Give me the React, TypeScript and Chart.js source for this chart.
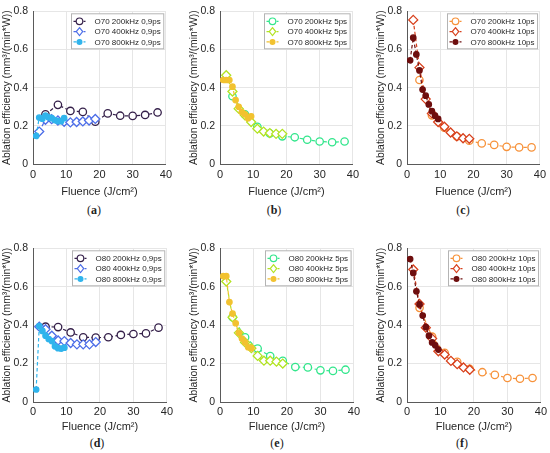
import { useEffect, useRef } from "react";
import { Chart, registerables } from "chart.js";

Chart.register(...registerables);

const FONT = '"Liberation Sans", Arial, Helvetica, sans-serif';
Chart.defaults.font.family = FONT;

// fluence steps per repetition rate (J/cm²)
const FLUENCE_200K = [3.75, 7.5, 11.25, 15, 18.75, 22.5, 26.25, 30, 33.75, 37.5];
const FLUENCE_400K = [1.875, 3.75, 5.625, 7.5, 9.375, 11.25, 13.125, 15, 16.875, 18.75];
const FLUENCE_800K = [0.94, 1.875, 2.81, 3.75, 4.69, 5.625, 6.56, 7.5, 8.44, 9.375];

// ablation efficiency, mm³/(min*W)
const O70_09PS_200K = [0.26, 0.31, 0.278, 0.273, 0.222, 0.265, 0.253, 0.252, 0.257, 0.27];
const O70_09PS_400K = [0.17, 0.232, 0.235, 0.228, 0.221, 0.218, 0.22, 0.223, 0.228, 0.236];
const O70_09PS_800K = [0.147, 0.243, 0.237, 0.253, 0.245, 0.24, 0.23, 0.225, 0.224, 0.24];

const O70_5PS_200K = [0.355, 0.26, 0.195, 0.16, 0.145, 0.14, 0.127, 0.118, 0.114, 0.118];
const O70_5PS_400K = [0.465, 0.38, 0.29, 0.255, 0.22, 0.185, 0.17, 0.162, 0.158, 0.158];
const O70_5PS_800K = [0.44, 0.44, 0.44, 0.405, 0.335, 0.3, 0.272, 0.26, 0.24, 0.25];

const O70_10PS_200K = [0.44, 0.255, 0.19, 0.145, 0.122, 0.108, 0.1, 0.09, 0.087, 0.087];
const O70_10PS_400K = [0.755, 0.505, 0.34, 0.265, 0.22, 0.195, 0.165, 0.145, 0.135, 0.132];
const O70_10PS_800K = [0.543, 0.662, 0.574, 0.49, 0.39, 0.358, 0.312, 0.277, 0.253, 0.236];

const O80_09PS_200K = [0.392, 0.39, 0.362, 0.337, 0.335, 0.337, 0.349, 0.354, 0.357, 0.387];
const O80_09PS_400K = [0.392, 0.379, 0.345, 0.32, 0.317, 0.307, 0.3, 0.3, 0.3, 0.312];
const O80_09PS_800K = [0.065, 0.395, 0.37, 0.345, 0.328, 0.317, 0.29, 0.28, 0.278, 0.283];

const O80_5PS_200K = [0.441, 0.337, 0.278, 0.239, 0.214, 0.182, 0.18, 0.165, 0.162, 0.168];
const O80_5PS_400K = [0.627, 0.441, 0.36, 0.31, 0.28, 0.24, 0.215, 0.215, 0.21, 0.2];
const O80_5PS_800K = [0.655, 0.655, 0.52, 0.46, 0.41, 0.36, 0.33, 0.31, 0.285, 0.28];

const O80_10PS_200K = [0.49, 0.34, 0.256, 0.209, 0.172, 0.155, 0.141, 0.125, 0.121, 0.125];
const O80_10PS_400K = [0.69, 0.51, 0.387, 0.33, 0.264, 0.247, 0.214, 0.197, 0.18, 0.168];
const O80_10PS_800K = [0.744, 0.672, 0.576, 0.508, 0.45, 0.39, 0.345, 0.31, 0.295, 0.273];

const COLORS_09PS = ["#35204a", "#4d6ee8", "#30b4ec"];
const COLORS_5PS = ["#33e68c", "#b2e322", "#f2c230"];
const COLORS_10PS = ["#f7923a", "#d8401c", "#6e0e0e"];

const MARKERS = ["ring", "diamond", "dot"];

const ROWS = [
  { canvasTop: 0, plotTop: 6, plotBottom: 164, canvasBottom: 200, captionY: 210, tickPad: 4 },
  { canvasTop: 237, plotTop: 243, plotBottom: 402, canvasBottom: 435, captionY: 443, tickPad: 3 },
];
const COLS = [
  { canvasLeft: 0, plotLeft: 33, plotRight: 168, canvasRight: 176 },
  { canvasLeft: 187, plotLeft: 220, plotRight: 355, canvasRight: 363 },
  { canvasLeft: 374, plotLeft: 407, plotRight: 542, canvasRight: 550 },
];
const CAPTION_X = [
  [94, 274, 463],
  [97, 277, 462],
];

interface PanelSpec {
  row: number;
  col: number;
  caption: string;
  labels: string[];
  colors: string[];
  series: number[][];
}

const PANELS: PanelSpec[] = [
  {
    row: 0, col: 0, caption: "a", colors: COLORS_09PS,
    labels: ["O70 200kHz 0,9ps", "O70 400kHz 0,9ps", "O70 800kHz 0,9ps"],
    series: [O70_09PS_200K, O70_09PS_400K, O70_09PS_800K],
  },
  {
    row: 0, col: 1, caption: "b", colors: COLORS_5PS,
    labels: ["O70 200kHz 5ps", "O70 400kHz 5ps", "O70 800kHz 5ps"],
    series: [O70_5PS_200K, O70_5PS_400K, O70_5PS_800K],
  },
  {
    row: 0, col: 2, caption: "c", colors: COLORS_10PS,
    labels: ["O70 200kHz 10ps", "O70 400kHz 10ps", "O70 800kHz 10ps"],
    series: [O70_10PS_200K, O70_10PS_400K, O70_10PS_800K],
  },
  {
    row: 1, col: 0, caption: "d", colors: COLORS_09PS,
    labels: ["O80 200kHz 0,9ps", "O80 400kHz 0,9ps", "O80 800kHz 0,9ps"],
    series: [O80_09PS_200K, O80_09PS_400K, O80_09PS_800K],
  },
  {
    row: 1, col: 1, caption: "e", colors: COLORS_5PS,
    labels: ["O80 200kHz 5ps", "O80 400kHz 5ps", "O80 800kHz 5ps"],
    series: [O80_5PS_200K, O80_5PS_400K, O80_5PS_800K],
  },
  {
    row: 1, col: 2, caption: "f", colors: COLORS_10PS,
    labels: ["O80 200kHz 10ps", "O80 400kHz 10ps", "O80 800kHz 10ps"],
    series: [O80_10PS_200K, O80_10PS_400K, O80_10PS_800K],
  },
];

const FLUENCES = [FLUENCE_200K, FLUENCE_400K, FLUENCE_800K];

function drawMarker(ctx: CanvasRenderingContext2D, kind: string, x: number, y: number, color: string) {
  ctx.save();
  ctx.setLineDash([]);
  ctx.lineWidth = 1.2;
  ctx.strokeStyle = color;
  ctx.fillStyle = kind === "dot" ? color : "#ffffff";
  ctx.beginPath();
  if (kind === "diamond") {
    ctx.moveTo(x, y - 4);
    ctx.lineTo(x + 3.2, y);
    ctx.lineTo(x, y + 4);
    ctx.lineTo(x - 3.2, y);
    ctx.closePath();
  } else {
    ctx.arc(x, y, kind === "dot" ? 2.4 : 3.3, 0, Math.PI * 2);
  }
  ctx.fill();
  ctx.stroke();
  ctx.restore();
}

// legend box drawn inside the plot area, top right
const boxLegend = {
  id: "boxLegend",
  afterDraw(chart: any, _args: any, opts: any) {
    const { ctx, chartArea } = chart;
    const labels: string[] = opts.labels;
    const colors: string[] = opts.colors;
    ctx.save();
    ctx.font = `8px ${FONT}`;
    const textW = Math.max(...labels.map((l) => ctx.measureText(l).width));
    const boxW = 23 + textW + 3;
    const boxH = 35;
    const right = chartArea.right - 3;
    const left = Math.round(right - boxW) + 0.5;
    const top = chartArea.top + 2.5;
    ctx.fillStyle = "#ffffff";
    ctx.fillRect(left, top, boxW, boxH);
    ctx.strokeStyle = "#b4b4b4";
    ctx.lineWidth = 1;
    ctx.strokeRect(left, top, boxW, boxH);
    labels.forEach((label, i) => {
      const y = top + 7.5 + i * 10.3;
      ctx.strokeStyle = colors[i];
      ctx.lineWidth = 1.2;
      ctx.setLineDash([3, 2]);
      ctx.beginPath();
      ctx.moveTo(left + 2, y);
      ctx.lineTo(left + 14, y);
      ctx.stroke();
      drawMarker(ctx, MARKERS[i], left + 8, y, colors[i]);
      ctx.fillStyle = "#262626";
      ctx.textAlign = "left";
      ctx.textBaseline = "middle";
      ctx.fillText(label, left + 23, y + 0.5);
    });
    ctx.restore();
  },
};

function Panel({ spec }: { spec: PanelSpec }) {
  const ref = useRef<HTMLCanvasElement>(null);
  const row = ROWS[spec.row];
  const col = COLS[spec.col];
  const width = col.canvasRight - col.canvasLeft;
  const height = row.canvasBottom - row.canvasTop;

  useEffect(() => {
    if (!ref.current) return;
    const datasets = spec.series.map((values, i) => {
      const color = spec.colors[i];
      const kind = MARKERS[i];
      return {
        label: spec.labels[i],
        data: values.map((y, j) => ({ x: FLUENCES[i][j], y })),
        showLine: true,
        borderColor: color,
        borderWidth: 1.2,
        borderDash: [3.5, 2.5],
        pointStyle: kind === "diamond" ? "rectRot" : "circle",
        pointRadius: kind === "diamond" ? 4.5 : kind === "dot" ? 2.7 : 3.7,
        pointBorderWidth: 1.3,
        pointBorderColor: color,
        pointBackgroundColor: kind === "dot" ? color : "#ffffff",
        order: 2 - i,
      };
    });

    const chart = new Chart(ref.current, {
      type: "scatter",
      data: { datasets },
      plugins: [boxLegend],
      options: {
        animation: false,
        responsive: true,
        maintainAspectRatio: false,
        layout: {
          padding: {
            left: 0,
            top: row.plotTop - row.canvasTop,
            right: col.canvasRight - col.plotRight,
            bottom: 0,
          },
        },
        plugins: {
          legend: { display: false },
          tooltip: { enabled: false },
          boxLegend: { labels: spec.labels, colors: spec.colors },
        } as any,
        scales: {
          x: {
            type: "linear",
            min: 0,
            max: 40,
            afterFit: (scale: any) => {
              scale.height = row.canvasBottom - row.plotBottom;
            },
            ticks: {
              stepSize: 10,
              padding: row.tickPad,
              color: "#262626",
              font: { size: 11 },
              maxRotation: 0,
            },
            grid: { color: "#e6e6e6", drawTicks: false },
            border: { display: true, color: "#5a5a5a", width: 1 },
            title: {
              display: true,
              text: "Fluence (J/cm²)",
              color: "#262626",
              font: { size: 11 },
              padding: { top: 0, bottom: 1.5 },
            },
          },
          y: {
            type: "linear",
            min: 0,
            max: 0.8,
            afterFit: (scale: any) => {
              scale.width = col.plotLeft - col.canvasLeft;
            },
            ticks: {
              stepSize: 0.2,
              padding: 5,
              color: "#262626",
              font: { size: 10.5 },
              callback: (v: any) => (Number(v) === 0 ? "0" : Number(v).toFixed(1)),
            },
            grid: { color: "#e6e6e6", drawTicks: false },
            border: { display: true, color: "#5a5a5a", width: 1 },
            title: {
              display: true,
              text: "Ablation efficiency (mm³/(min*W))",
              color: "#262626",
              font: { size: 10.4 },
              padding: { top: 1.2, bottom: 0 },
            },
          },
        },
      },
    });
    return () => chart.destroy();
  }, [spec]);

  return (
    <>
      <div
        style={{
          position: "absolute",
          left: col.canvasLeft,
          top: row.canvasTop,
          width,
          height,
        }}
      >
        <canvas ref={ref} />
      </div>
      <div
        style={{
          position: "absolute",
          left: CAPTION_X[spec.row][spec.col],
          top: row.captionY,
          transform: "translate(-50%, -50%)",
          fontFamily: '"Liberation Serif", "Times New Roman", serif',
          fontSize: 12,
          color: "#222",
          whiteSpace: "nowrap",
          lineHeight: 1,
        }}
      >
        (<b>{spec.caption}</b>)
      </div>
    </>
  );
}

export default function App() {
  return (
    <div
      style={{
        position: "absolute",
        left: 0,
        top: 0,
        width: 550,
        height: 453,
        background: "#ffffff",
        overflow: "hidden",
      }}
    >
      {PANELS.map((p) => (
        <Panel key={p.caption} spec={p} />
      ))}
    </div>
  );
}
